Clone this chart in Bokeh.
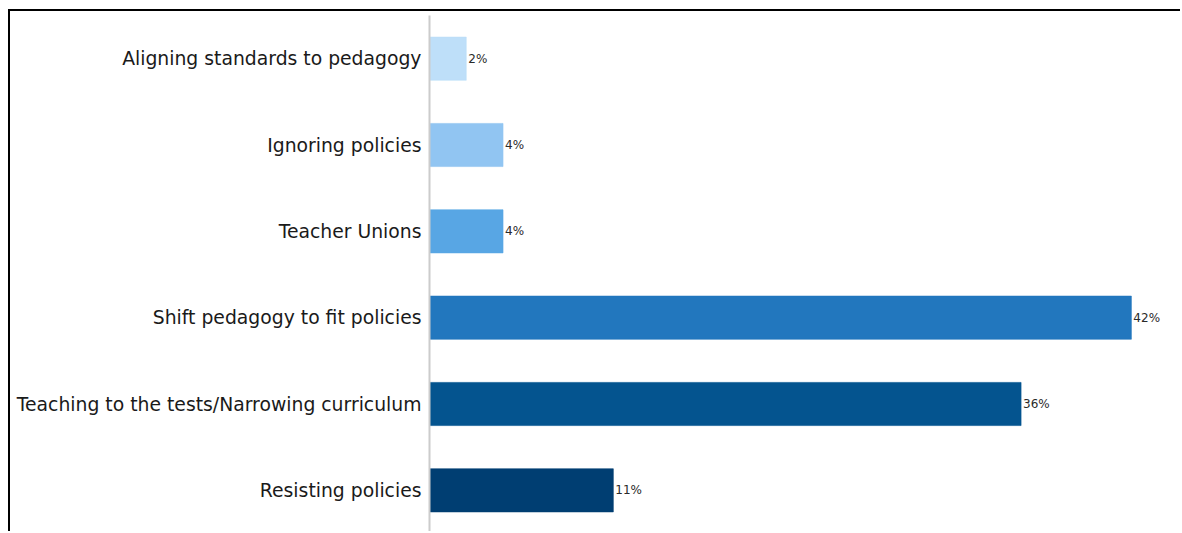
from bokeh.plotting import figure
from bokeh.models import ColumnDataSource, FactorRange, Range1d, LabelSet
from bokeh.core.properties import value
from bokeh.embed import file_html
from bokeh.resources import INLINE

categories = ["Aligning standards to pedagogy", "Ignoring policies", "Teacher Unions",
              "Shift pedagogy to fit policies", "Teaching to the tests/Narrowing curriculum",
              "Resisting policies"]
values = [2.2, 4.4, 4.4, 42.0, 35.4, 11.0]
value_labels = ["2%", "4%", "4%", "42%", "36%", "11%"]
colors = ["#BEDFF9", "#91C5F2", "#58A6E4", "#2277BE", "#04548F", "#003E72"]

source = ColumnDataSource(dict(cat=categories, val=values, lab=value_labels, col=colors))

p = figure(width=1172, height=522, output_backend="svg", toolbar_location=None,
           y_range=FactorRange(*categories[::-1], range_padding=0),
           x_range=Range1d(0, 45.06),
           min_border_left=419, min_border_top=4, min_border_bottom=0, min_border_right=0,
           styles={"margin-left": "8px", "margin-top": "9px",
                   "border-left": "2px solid black", "border-top": "2px solid black"})

p.hbar(y="cat", right="val", left=0, height=0.5, color="col", line_color="col",
       line_alpha=0.6, source=source)

labels = LabelSet(x="val", y="cat", text="lab", source=source, x_offset=2,
                  text_baseline="middle", text_font_size="12px",
                  text_color="#2a2a2a", text_font=value("DejaVu Sans"))
p.add_layout(labels)

p.xaxis.visible = False
p.xgrid.visible = False
p.ygrid.visible = False
p.outline_line_color = None
p.yaxis.axis_line_color = "#cccccc"
p.yaxis.axis_line_width = 2
p.yaxis.major_tick_line_color = None
p.yaxis.minor_tick_line_color = None
p.yaxis.major_label_standoff = 2
p.yaxis.major_label_text_font = "DejaVu Sans"
p.yaxis.major_label_text_font_size = "18.8px"
p.yaxis.major_label_text_color = "#1a1a1a"

open("out.html", "w").write(file_html(p, INLINE))
